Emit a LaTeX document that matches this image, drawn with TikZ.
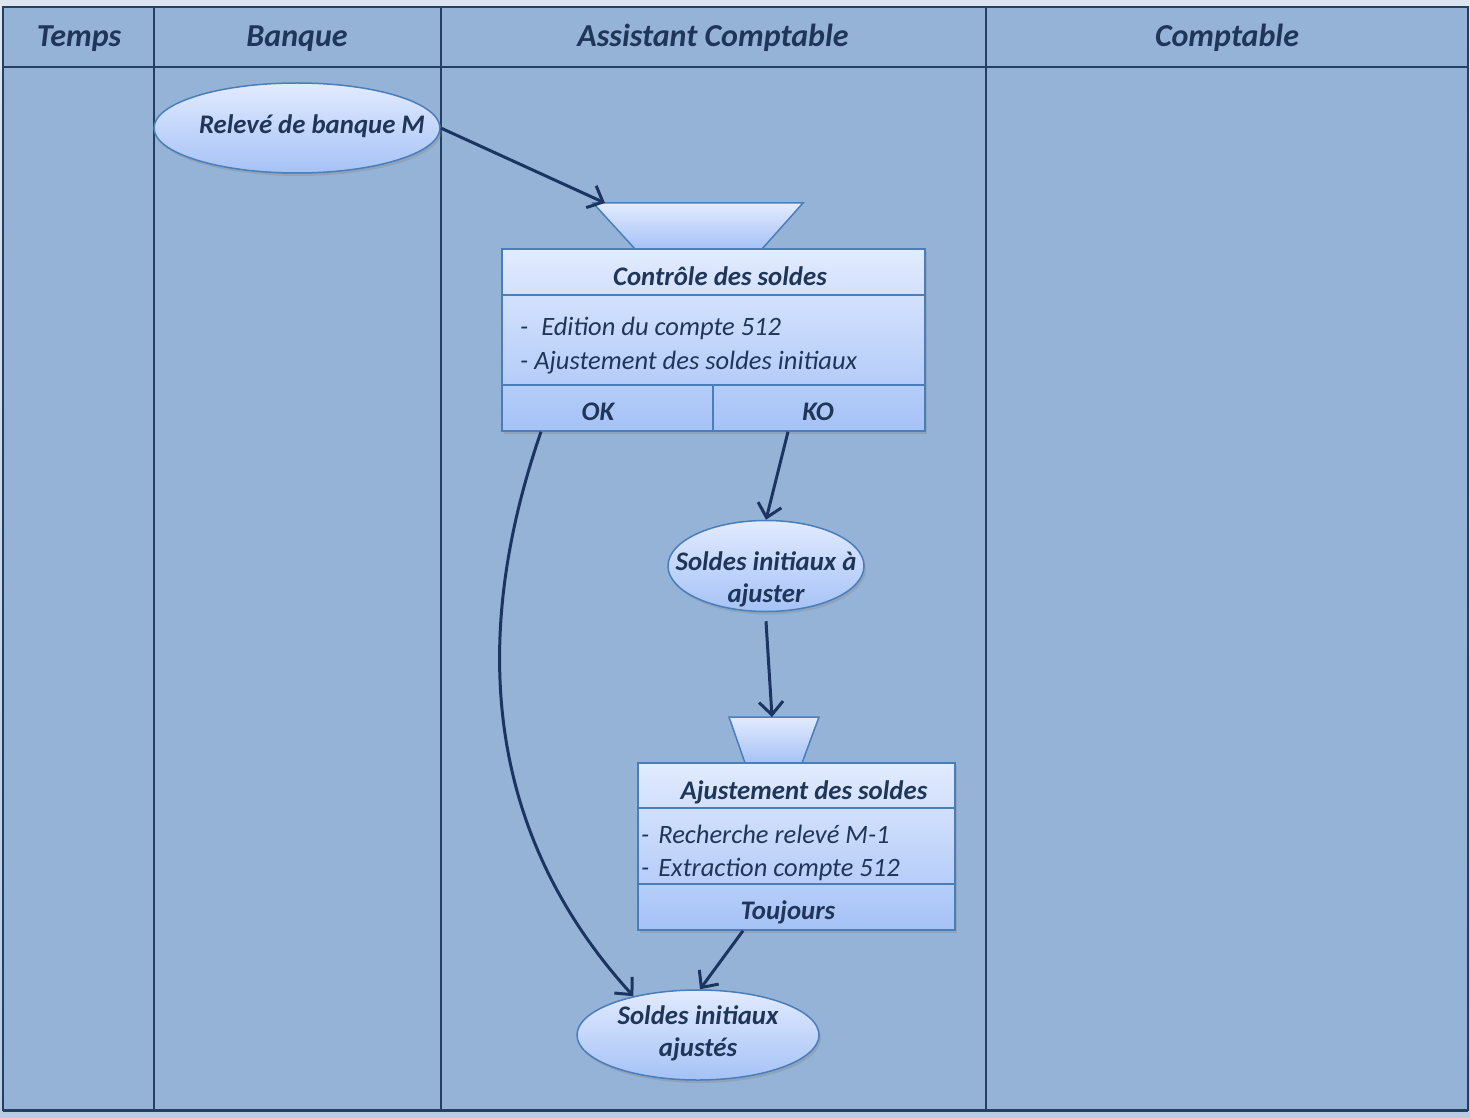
\documentclass[tikz,border=0pt]{standalone}
\usepackage{fontspec}
\setmainfont{Carlito}
\usetikzlibrary{shapes.geometric,arrows.meta,shadows,calc}
\definecolor{bgtop}{HTML}{DDE6F0}
\definecolor{bgbot}{HTML}{B8CCE4}
\definecolor{lane}{HTML}{95B3D7}
\definecolor{laneline}{HTML}{243F60}
\definecolor{txt}{HTML}{1F3659}
\definecolor{arr}{HTML}{1B3560}
\definecolor{shtop}{HTML}{E2EBFF}
\definecolor{shbot}{HTML}{A5C2F6}
\definecolor{shline}{HTML}{4A7EBB}
\begin{document}
\begin{tikzpicture}[x=1pt,y=-1pt,
  hdr/.style={font=\fontsize{32}{36}\selectfont\bfseries\itshape, text=txt, inner sep=0pt},
  ttl/.style={font=\fontsize{26.8}{32}\selectfont\bfseries\itshape, text=txt, inner sep=0pt, align=center},
  item/.style={font=\fontsize{26.5}{34}\selectfont\itshape, text=txt, inner sep=0pt, anchor=west, align=left},
  blob/.style={ellipse, draw=shline, line width=1.5pt, top color=shtop, bottom color=shbot,
    drop shadow={opacity=0.3, shadow xshift=2pt, shadow yshift=-3pt}, inner sep=0pt},
  boxx/.style={rectangle, draw=shline, line width=1.5pt, top color=shtop, bottom color=shbot,
    drop shadow={opacity=0.3, shadow xshift=2pt, shadow yshift=-3pt}, inner sep=0pt},
  funnel/.style={draw=shline, line width=1.5pt, top color=shtop, bottom color=shbot},
  sep/.style={draw=shline, line width=1.5pt},
  flow/.style={draw=arr, line width=3pt, -{Straight Barb[length=13pt,width=24pt,line width=3pt]}}]
% background
\shade[top color=bgtop, bottom color=bgbot] (0,0) rectangle (1470,1118);
\path[use as bounding box] (0,0) rectangle (1470,1118);
% swimlanes
\draw[draw=laneline, line width=2pt, fill=lane] (3,7) rectangle (1468,1110);
\draw[draw=laneline, line width=3pt] (3,1110) -- (1468,1110);
\draw[draw=laneline, line width=2pt] (3,67) -- (1468,67);
\foreach \xx in {154,441,986} \draw[draw=laneline, line width=2pt] (\xx,7) -- (\xx,1110);
\node[hdr, anchor=base] (h1) at (79,47) {Temps};
\node[hdr, anchor=base] (h2) at (297,47) {Banque};
\node[hdr, anchor=base] (h3) at (713,47) {Assistant Comptable};
\node[hdr, anchor=base] (h4) at (1227,47) {Comptable};
% ellipse 1
\node[blob, minimum width=286pt, minimum height=90pt] (e1) at (297,128) {};
\node[ttl, anchor=base] (e1t) at (312,134) {Relevé de banque M};
% funnel 1 + box 1
\path[funnel] (593,203) -- (803,203) -- (762,249) -- (635,249) -- cycle;
\coordinate (t1in) at (605,203);
\node[boxx, minimum width=423pt, minimum height=182pt] (b1) at (713.5,340) {};
\draw[sep] (502,295) -- (925,295);
\draw[sep] (502,385) -- (925,385);
\draw[sep] (713,385) -- (713,431);
\node[ttl, anchor=base] (b1t) at (720,285) {Contrôle des soldes};
\node[item, anchor=base west] (b1i1) at (520,335) {-\hspace{13pt}Edition du compte 512};
\node[item, anchor=base west] (b1i2) at (520,369) {- Ajustement des soldes initiaux};
\node[ttl, anchor=base] (b1ok) at (598,420) {OK};
\node[ttl, anchor=base] (b1ko) at (818,420) {KO};
% ellipse 2
\node[blob, minimum width=196pt, minimum height=91pt] (e2) at (766,566) {};
\node[ttl] (e2t) at (766,579) {Soldes initiaux à\\ajuster};
% funnel 2 + box 2
\path[funnel] (729,717) -- (819,717) -- (802,763) -- (745,763) -- cycle;
\coordinate (t2in) at (772,717);
\node[boxx, minimum width=317pt, minimum height=167pt] (b2) at (796.5,846.5) {};
\draw[sep] (638,808) -- (955,808);
\draw[sep] (638,884) -- (955,884);
\node[ttl, anchor=base] (b2t) at (804,799) {Ajustement des soldes};
\node[item, anchor=base west] (b2i1) at (641,843) {-\hspace{9pt}Recherche relevé M-1};
\node[item, anchor=base west] (b2i2) at (641,876) {-\hspace{9pt}Extraction compte 512};
\node[ttl, anchor=base] (b2f) at (788,919) {Toujours};
% ellipse 3
\node[blob, minimum width=242pt, minimum height=90pt] (e3) at (698,1035) {};
\node[ttl] (e3t) at (698,1033) {Soldes initiaux\\ajustés};
% connectors
\draw[flow] (e1.east) -- (t1in);
\draw[flow] ([xshift=74.5pt]b1.south) -- (e2.north);
\draw[flow] ([yshift=-9pt]e2.south) -- (t2in);
\draw[flow] ([xshift=-53.5pt]b2.south) -- ([xshift=2pt]e3.north);
\draw[flow] ([xshift=-172.5pt]b1.south) .. controls (490,580) and (455,800) .. (e3.149);
\end{tikzpicture}
\end{document}
